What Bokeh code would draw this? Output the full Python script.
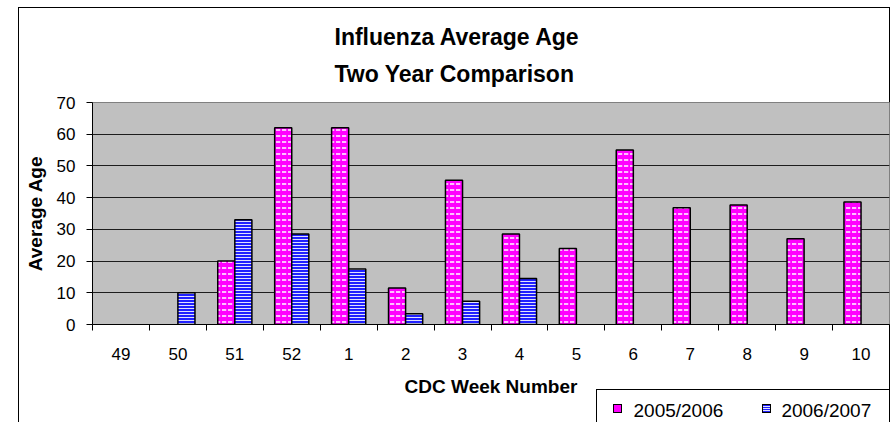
from bokeh.plotting import figure
from bokeh.models import ColumnDataSource, FixedTicker, Title
from bokeh.embed import file_html
from bokeh.resources import INLINE

# ---- data ----
weeks = ["49", "50", "51", "52", "1", "2", "3", "4", "5", "6", "7", "8", "9", "10"]
season_2005_2006 = [None, None, 20, 62, 62, 11.5, 45.5, 28.5, 24, 55, 36.8, 37.7, 27, 38.6]
season_2006_2007 = [None, 10, 33, 28.5, 17.5, 3.4, 7.3, 14.5, None, None, None, None, None, None]
series_names = ["2005/2006", "2006/2007"]
y_ticks = [0, 10, 20, 30, 40, 50, 60, 70]
title_lines = ["Influenza Average Age", "Two Year Comparison"]
x_title = "CDC Week Number"
y_title = "Average Age"

FONT = "Liberation Sans"
PINK = "#FF00FF"
BLUE = "#2020FF"
STRIPE = "#E0E0FF"

def series_source(values, offset):
    xs, tops = [], []
    for i, v in enumerate(values):
        if v is not None:
            xs.append(i + offset)
            tops.append(v)
    return ColumnDataSource(dict(x=xs, top=tops))

src_a = series_source(season_2005_2006, 0.35)
src_b = series_source(season_2006_2007, 0.65)

# chart-area frame, legend frame and legend swatches drawn as CSS behind a transparent canvas
solid = lambda c: f"linear-gradient({c}, {c})"
layers = [
    (solid(PINK), "7px 7px", "614px 405px"),
    (solid("#000"), "9px 9px", "613px 404px"),
    (f"repeating-linear-gradient(to bottom, {BLUE} 0px, {BLUE} 1px, {STRIPE} 1px, {STRIPE} 2px)",
     "7px 7px", "763px 405px"),
    (solid("#000"), "9px 9px", "762px 404px"),
    (solid("#000"), "872px 1px", "18px 7px"),
    (solid("#000"), "1px 430px", "18px 7px"),
    (solid("#000"), "1px 430px", "889px 7px"),
    (solid("#000"), "294px 1px", "596px 389px"),
    (solid("#000"), "1px 60px", "596px 389px"),
]
lines_css = {
    "background-image": ", ".join(l[0] for l in layers),
    "background-size": ", ".join(l[1] for l in layers),
    "background-position": ", ".join(l[2] for l in layers),
    "background-repeat": "no-repeat",
}

p = figure(width=890, height=422, x_range=(0, len(weeks)), y_range=(0, 70),
           output_backend="svg", toolbar_location=None,
           min_border_left=92, min_border_right=1, min_border_top=102, min_border_bottom=97,
           styles=lines_css)
p.background_fill_color = "#C0C0C0"
p.border_fill_alpha = 0
p.outline_line_color = "#808080"
p.outline_line_width = 1

p.title.text = "\n".join(title_lines)
p.title.align = "left"
p.title.offset = 242
p.title.text_font = FONT
p.title.text_font_style = "bold"
p.title.text_font_size = "23px"
p.title.text_color = "black"
p.title.text_line_height = 1.45
p.title.standoff = 30

r_a = p.vbar(x="x", top="top", width=0.3, bottom=0, source=src_a,
             fill_color=PINK, line_color="black", line_width=1.5,
             hatch_pattern="horizontal_dash", hatch_color="white",
             hatch_scale=6, hatch_weight=1.5)
r_b = p.vbar(x="x", top="top", width=0.3, bottom=0, source=src_b,
             fill_color=BLUE, line_color="black", line_width=1.5,
             hatch_pattern="horizontal_line", hatch_color=STRIPE,
             hatch_scale=3, hatch_weight=1)

# x axis: labels at category centres, ticks at category boundaries
centers = [i + 0.5 for i in range(len(weeks))]
bounds = list(range(len(weeks) + 1))
xa = p.xaxis[0]
xa.ticker = FixedTicker(ticks=centers, minor_ticks=bounds)
xa.major_label_overrides = {c: w for c, w in zip(centers, weeks)}
xa.major_tick_out = 0
xa.major_tick_in = 0
xa.minor_tick_out = 6
xa.minor_tick_in = 0
xa.minor_tick_line_color = "black"
xa.axis_line_color = "black"
xa.major_label_text_font = FONT
xa.major_label_text_font_size = "17px"
xa.major_label_text_color = "black"
xa.major_label_standoff = 17
xa.axis_label = x_title
xa.axis_label_text_font = FONT
xa.axis_label_text_font_style = "bold"
xa.axis_label_text_font_size = "19px"
xa.axis_label_text_color = "black"
xa.axis_label_standoff = 13

ya = p.yaxis[0]
ya.ticker = FixedTicker(ticks=y_ticks)
ya.major_tick_out = 6
ya.major_tick_in = 0
ya.minor_tick_line_color = None
ya.major_tick_line_color = "black"
ya.axis_line_color = "black"
ya.major_label_text_font = FONT
ya.major_label_text_font_size = "17px"
ya.major_label_text_color = "black"
ya.major_label_standoff = 11
ya.axis_label = y_title
ya.axis_label_text_font = FONT
ya.axis_label_text_font_style = "bold"
ya.axis_label_text_font_size = "19px"
ya.axis_label_text_color = "black"
ya.axis_label_standoff = 8

p.xgrid.visible = False
p.ygrid.ticker = FixedTicker(ticks=y_ticks[1:-1])
p.ygrid.grid_line_color = "black"
p.ygrid.grid_line_alpha = 0.85
p.ygrid.grid_line_width = 1

# legend labels (swatches are the CSS squares above)
legend_text = ("\u00a0" * 11).join(series_names)
p.add_layout(Title(text=legend_text, align="left", offset=541, vertical_align="top",
                   standoff=0, text_font=FONT, text_font_style="normal",
                   text_font_size="19px", text_color="black"), "below")

open("out.html", "w").write(file_html(p, INLINE))
